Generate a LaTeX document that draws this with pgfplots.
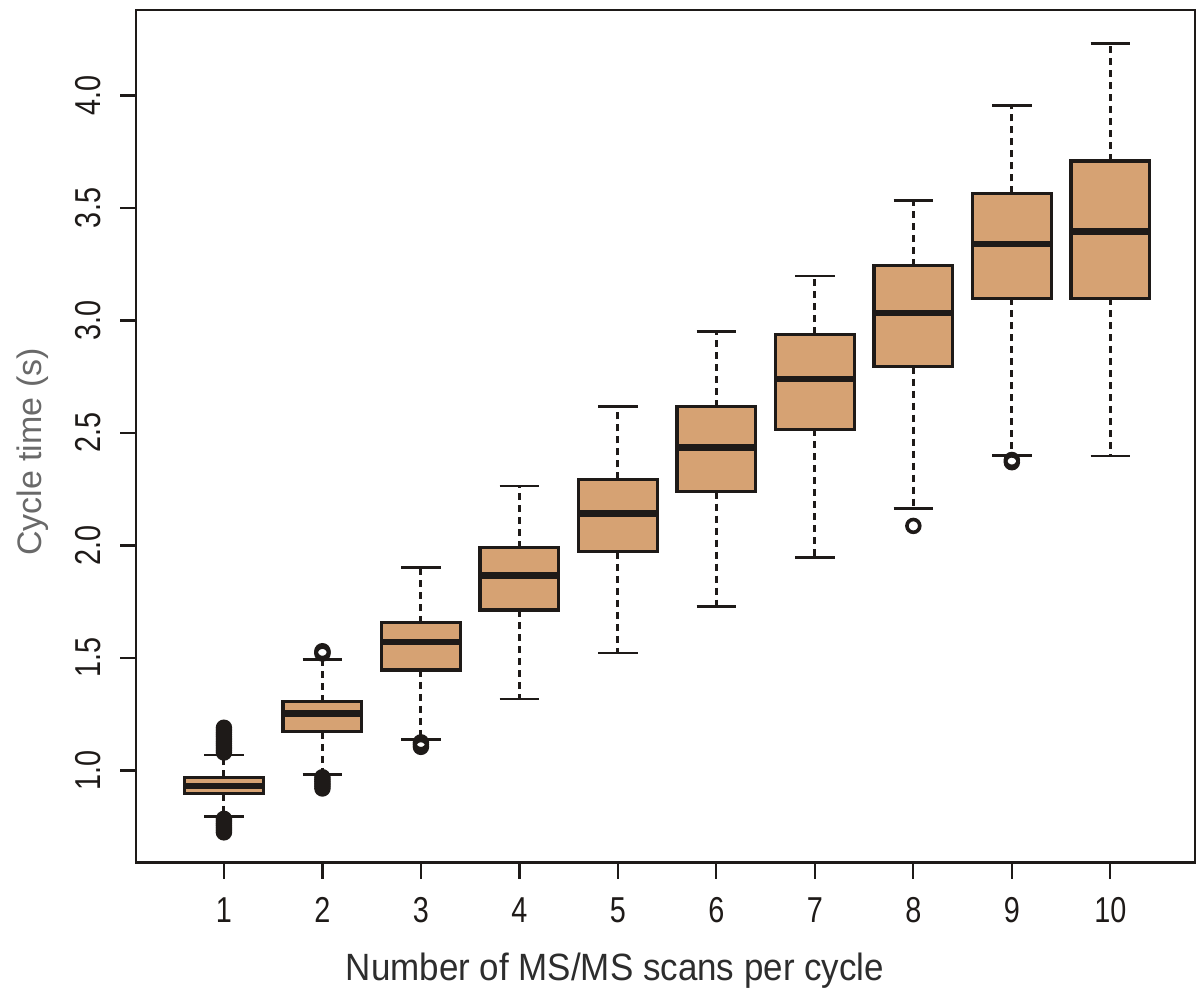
\documentclass[border=0pt]{standalone}
\usepackage{fontspec}
\setmainfont{Liberation Sans}
\newfontfamily\tickfont[FakeStretch=0.8]{Liberation Sans}
\newfontfamily\xlabfont[FakeStretch=0.92]{Liberation Sans}
\usepackage{pgfplots}
\pgfplotsset{compat=1.18}
\usepgfplotslibrary{statistics}
\definecolor{boxfill}{RGB}{214,162,115}
\definecolor{ylabgray}{RGB}{105,105,105}
\definecolor{xlabgray}{RGB}{45,45,45}
\definecolor{darkline}{RGB}{30,26,24}

\pgfplotsset{
  rbox/.style={
    solid, darkline, line width=1.4pt,
    mark=o, mark size=3.2pt, mark options={solid, line width=1.8pt, fill=none, draw=darkline},
    boxplot/draw direction=y,
    boxplot/box extend=0.8,
    boxplot/whisker extend=0.4,
    boxplot/every box/.style={fill=boxfill, draw=darkline, line width=1.6pt},
    boxplot/every median/.style={draw=darkline, line width=3.2pt},
    boxplot/draw/lower whisker/.code={
      \draw[dash pattern=on 3.5pt off 2.5pt, line width=1.5pt, darkline]
        (boxplot cs:\pgfplotsboxplotvalue{lower quartile}) --
        (boxplot cs:\pgfplotsboxplotvalue{lower whisker});
      \draw[line width=1.4pt, darkline]
        (boxplot whisker cs:\pgfplotsboxplotvalue{lower whisker},0) --
        (boxplot whisker cs:\pgfplotsboxplotvalue{lower whisker},1);
    },
    boxplot/draw/upper whisker/.code={
      \draw[dash pattern=on 3.5pt off 2.5pt, line width=1.5pt, darkline]
        (boxplot cs:\pgfplotsboxplotvalue{upper quartile}) --
        (boxplot cs:\pgfplotsboxplotvalue{upper whisker});
      \draw[line width=1.4pt, darkline]
        (boxplot whisker cs:\pgfplotsboxplotvalue{upper whisker},0) --
        (boxplot whisker cs:\pgfplotsboxplotvalue{upper whisker},1);
    },
  }
}

\begin{document}
\begin{tikzpicture}
\begin{axis}[
  scale only axis, width=529.5pt, height=426.25pt,
  xmin=0.107, xmax=10.86, ymin=0.591, ymax=4.38,
  axis line style={line width=1.2pt, darkline},
  xtick={1,2,3,4,5,6,7,8,9,10},
  xticklabels={1,2,3,4,5,6,7,8,9,10},
  ytick={1,1.5,2,2.5,3,3.5,4},
  yticklabels={1.0,1.5,2.0,2.5,3.0,3.5,4.0},
  xtick pos=lower, ytick pos=left,
  tick align=outside, major tick length=8pt,
  tick style={line width=1.1pt, darkline},
  ticklabel style={font=\tickfont\fontsize{18}{18}\selectfont, text=darkline},
  xticklabel style={yshift=-6pt},
  yticklabel style={xshift=-6pt, rotate=90, anchor=south},
  every axis x label/.style={at={(axis description cs:0.4523,0)}, yshift=-58.75pt, anchor=base},
  every axis y label/.style={at={(axis description cs:0,0.4815)}, xshift=-47pt, rotate=90, anchor=base},
  xlabel={\xlabfont\fontsize{19}{19}\selectfont\color{xlabgray}Number of MS/MS scans per cycle},
  ylabel={\fontsize{17}{17}\selectfont\color{ylabgray}Cycle time (s)},
]
\addplot[rbox, boxplot prepared={draw position=1, lower whisker=0.795, lower quartile=0.896, median=0.931, upper quartile=0.970, upper whisker=1.069}]
  coordinates {(1,1.08)(1,1.09)(1,1.10)(1,1.11)(1,1.12)(1,1.13)(1,1.14)(1,1.15)(1,1.16)(1,1.17)(1,1.18)(1,1.19)
               (1,0.785)(1,0.775)(1,0.765)(1,0.755)(1,0.745)(1,0.735)(1,0.725)};
\addplot[rbox, boxplot prepared={draw position=2, lower whisker=0.983, lower quartile=1.172, median=1.254, upper quartile=1.306, upper whisker=1.494}]
  coordinates {(2,1.53)(2,1.525)(2,1.52)(2,0.97)(2,0.96)(2,0.95)(2,0.94)(2,0.93)(2,0.92)};
\addplot[rbox, boxplot prepared={draw position=3, lower whisker=1.139, lower quartile=1.447, median=1.572, upper quartile=1.657, upper whisker=1.901}]
  coordinates {(3,1.125)(3,1.115)(3,1.105)};
\addplot[rbox, boxplot prepared={draw position=4, lower whisker=1.318, lower quartile=1.713, median=1.866, upper quartile=1.990, upper whisker=2.264}]
  coordinates {};
\addplot[rbox, boxplot prepared={draw position=5, lower whisker=1.522, lower quartile=1.972, median=2.143, upper quartile=2.294, upper whisker=2.617}]
  coordinates {};
\addplot[rbox, boxplot prepared={draw position=6, lower whisker=1.728, lower quartile=2.239, median=2.435, upper quartile=2.617, upper whisker=2.950}]
  coordinates {};
\addplot[rbox, boxplot prepared={draw position=7, lower whisker=1.948, lower quartile=2.516, median=2.739, upper quartile=2.939, upper whisker=3.198}]
  coordinates {};
\addplot[rbox, boxplot prepared={draw position=8, lower whisker=2.165, lower quartile=2.795, median=3.032, upper quartile=3.244, upper whisker=3.532}]
  coordinates {(8,2.087)};
\addplot[rbox, boxplot prepared={draw position=9, lower whisker=2.399, lower quartile=3.099, median=3.339, upper quartile=3.565, upper whisker=3.955}]
  coordinates {(9,2.38)(9,2.37)};
\addplot[rbox, boxplot prepared={draw position=10, lower whisker=2.398, lower quartile=3.099, median=3.395, upper quartile=3.709, upper whisker=4.232}]
  coordinates {};
\end{axis}
\pgfresetboundingbox
\path[use as bounding box] ([xshift=-68pt,yshift=-65.75pt]current axis.south west) rectangle ([xshift=0.5pt,yshift=5pt]current axis.north east);
\end{tikzpicture}
\end{document}
